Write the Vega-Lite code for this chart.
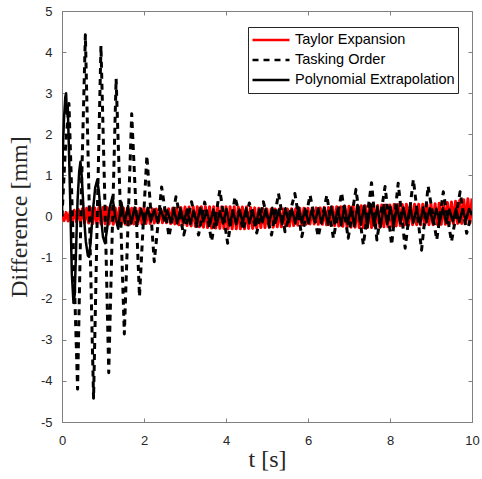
{
  "$schema": "https://vega.github.io/schema/vega-lite/v6.json",
  "width": 410,
  "height": 411,
  "autosize": {"type": "none"},
  "padding": {"left": 62, "top": 11, "right": 10, "bottom": 57},
  "background": "white",
  "datasets": {
    "taylor": [
      {"t":0.00,"v":0.06},{"t":0.05,"v":-0.10},{"t":0.10,"v":0.10},{"t":0.15,"v":-0.11},{"t":0.20,"v":0.12},{"t":0.25,"v":-0.11},{"t":0.30,"v":0.15},{"t":0.35,"v":-0.13},{"t":0.40,"v":0.17},{"t":0.45,"v":-0.14},
      {"t":0.50,"v":0.19},{"t":0.55,"v":-0.15},{"t":0.60,"v":0.20},{"t":0.65,"v":-0.16},{"t":0.70,"v":0.21},{"t":0.75,"v":-0.17},{"t":0.80,"v":0.21},{"t":0.85,"v":-0.17},{"t":0.90,"v":0.22},{"t":0.95,"v":-0.18},
      {"t":1.00,"v":0.22},{"t":1.05,"v":-0.18},{"t":1.10,"v":0.22},{"t":1.15,"v":-0.18},{"t":1.20,"v":0.21},{"t":1.25,"v":-0.19},{"t":1.30,"v":0.21},{"t":1.35,"v":-0.19},{"t":1.40,"v":0.21},{"t":1.45,"v":-0.19},
      {"t":1.50,"v":0.21},{"t":1.55,"v":-0.19},{"t":1.60,"v":0.20},{"t":1.65,"v":-0.19},{"t":1.70,"v":0.20},{"t":1.75,"v":-0.18},{"t":1.80,"v":0.20},{"t":1.85,"v":-0.18},{"t":1.90,"v":0.20},{"t":1.95,"v":-0.18},
      {"t":2.00,"v":0.20},{"t":2.05,"v":-0.17},{"t":2.10,"v":0.19},{"t":2.15,"v":-0.17},{"t":2.20,"v":0.19},{"t":2.25,"v":-0.16},{"t":2.30,"v":0.18},{"t":2.35,"v":-0.15},{"t":2.40,"v":0.18},{"t":2.45,"v":-0.15},
      {"t":2.50,"v":0.18},{"t":2.55,"v":-0.15},{"t":2.60,"v":0.19},{"t":2.65,"v":-0.17},{"t":2.70,"v":0.20},{"t":2.75,"v":-0.18},{"t":2.80,"v":0.21},{"t":2.85,"v":-0.20},{"t":2.90,"v":0.22},{"t":2.95,"v":-0.21},
      {"t":3.00,"v":0.23},{"t":3.05,"v":-0.22},{"t":3.10,"v":0.23},{"t":3.15,"v":-0.23},{"t":3.20,"v":0.24},{"t":3.25,"v":-0.24},{"t":3.30,"v":0.24},{"t":3.35,"v":-0.25},{"t":3.40,"v":0.24},{"t":3.45,"v":-0.26},
      {"t":3.50,"v":0.24},{"t":3.55,"v":-0.27},{"t":3.60,"v":0.24},{"t":3.65,"v":-0.28},{"t":3.70,"v":0.24},{"t":3.75,"v":-0.28},{"t":3.80,"v":0.24},{"t":3.85,"v":-0.29},{"t":3.90,"v":0.24},{"t":3.95,"v":-0.29},
      {"t":4.00,"v":0.24},{"t":4.05,"v":-0.30},{"t":4.10,"v":0.24},{"t":4.15,"v":-0.30},{"t":4.20,"v":0.24},{"t":4.25,"v":-0.30},{"t":4.30,"v":0.23},{"t":4.35,"v":-0.30},{"t":4.40,"v":0.23},{"t":4.45,"v":-0.30},
      {"t":4.50,"v":0.23},{"t":4.55,"v":-0.29},{"t":4.60,"v":0.22},{"t":4.65,"v":-0.29},{"t":4.70,"v":0.21},{"t":4.75,"v":-0.28},{"t":4.80,"v":0.20},{"t":4.85,"v":-0.27},{"t":4.90,"v":0.19},{"t":4.95,"v":-0.27},
      {"t":5.00,"v":0.18},{"t":5.05,"v":-0.26},{"t":5.10,"v":0.18},{"t":5.15,"v":-0.26},{"t":5.20,"v":0.18},{"t":5.25,"v":-0.25},{"t":5.30,"v":0.18},{"t":5.35,"v":-0.25},{"t":5.40,"v":0.18},{"t":5.45,"v":-0.24},
      {"t":5.50,"v":0.18},{"t":5.55,"v":-0.23},{"t":5.60,"v":0.19},{"t":5.65,"v":-0.22},{"t":5.70,"v":0.19},{"t":5.75,"v":-0.21},{"t":5.80,"v":0.20},{"t":5.85,"v":-0.20},{"t":5.90,"v":0.20},{"t":5.95,"v":-0.19},
      {"t":6.00,"v":0.20},{"t":6.05,"v":-0.18},{"t":6.10,"v":0.20},{"t":6.15,"v":-0.18},{"t":6.20,"v":0.21},{"t":6.25,"v":-0.19},{"t":6.30,"v":0.21},{"t":6.35,"v":-0.19},{"t":6.40,"v":0.22},{"t":6.45,"v":-0.20},
      {"t":6.50,"v":0.22},{"t":6.55,"v":-0.21},{"t":6.60,"v":0.23},{"t":6.65,"v":-0.22},{"t":6.70,"v":0.24},{"t":6.75,"v":-0.23},{"t":6.80,"v":0.24},{"t":6.85,"v":-0.24},{"t":6.90,"v":0.25},{"t":6.95,"v":-0.25},
      {"t":7.00,"v":0.25},{"t":7.05,"v":-0.26},{"t":7.10,"v":0.26},{"t":7.15,"v":-0.26},{"t":7.20,"v":0.26},{"t":7.25,"v":-0.27},{"t":7.30,"v":0.26},{"t":7.35,"v":-0.27},{"t":7.40,"v":0.26},{"t":7.45,"v":-0.27},
      {"t":7.50,"v":0.27},{"t":7.55,"v":-0.27},{"t":7.60,"v":0.27},{"t":7.65,"v":-0.26},{"t":7.70,"v":0.27},{"t":7.75,"v":-0.26},{"t":7.80,"v":0.28},{"t":7.85,"v":-0.25},{"t":7.90,"v":0.28},{"t":7.95,"v":-0.25},
      {"t":8.00,"v":0.28},{"t":8.05,"v":-0.24},{"t":8.10,"v":0.29},{"t":8.15,"v":-0.23},{"t":8.20,"v":0.29},{"t":8.25,"v":-0.22},{"t":8.30,"v":0.29},{"t":8.35,"v":-0.21},{"t":8.40,"v":0.30},{"t":8.45,"v":-0.21},
      {"t":8.50,"v":0.30},{"t":8.55,"v":-0.20},{"t":8.60,"v":0.30},{"t":8.65,"v":-0.20},{"t":8.70,"v":0.30},{"t":8.75,"v":-0.20},{"t":8.80,"v":0.30},{"t":8.85,"v":-0.20},{"t":8.90,"v":0.30},{"t":8.95,"v":-0.20},
      {"t":9.00,"v":0.30},{"t":9.05,"v":-0.20},{"t":9.10,"v":0.31},{"t":9.15,"v":-0.19},{"t":9.20,"v":0.32},{"t":9.25,"v":-0.19},{"t":9.30,"v":0.33},{"t":9.35,"v":-0.19},{"t":9.40,"v":0.34},{"t":9.45,"v":-0.18},
      {"t":9.50,"v":0.35},{"t":9.55,"v":-0.18},{"t":9.60,"v":0.37},{"t":9.65,"v":-0.17},{"t":9.70,"v":0.39},{"t":9.75,"v":-0.17},{"t":9.80,"v":0.41},{"t":9.85,"v":-0.16},{"t":9.90,"v":0.43},{"t":9.95,"v":-0.16},
      {"t":10.00,"v":0.44}
    ],
    "tasking": [
      {"t":0.00,"v":0.0},{"t":0.08,"v":1.6},{"t":0.17,"v":2.75},{"t":0.27,"v":-0.5},{"t":0.38,"v":-4.2},{"t":0.47,"v":0.5},{"t":0.57,"v":4.42},{"t":0.67,"v":0.0},{"t":0.77,"v":-4.42},{"t":0.86,"v":0.0},
      {"t":0.95,"v":4.15},{"t":1.05,"v":0.2},{"t":1.14,"v":-3.8},{"t":1.23,"v":-0.2},{"t":1.32,"v":3.35},{"t":1.42,"v":0.3},{"t":1.52,"v":-2.86},{"t":1.61,"v":-0.2},{"t":1.70,"v":2.5},{"t":1.80,"v":0.3},
      {"t":1.89,"v":-1.95},{"t":1.98,"v":-0.2},{"t":2.07,"v":1.48},{"t":2.16,"v":0.2},{"t":2.25,"v":-1.1},{"t":2.34,"v":-0.2},{"t":2.43,"v":0.72},{"t":2.61,"v":-0.49},{"t":2.78,"v":0.48},{"t":2.97,"v":-0.45},
      {"t":3.16,"v":0.36},{"t":3.33,"v":-0.45},{"t":3.48,"v":0.35},{"t":3.65,"v":-0.6},{"t":3.85,"v":0.64},{"t":4.04,"v":-0.65},{"t":4.22,"v":0.48},{"t":4.42,"v":-0.33},{"t":4.57,"v":0.33},{"t":4.75,"v":-0.4},
      {"t":4.91,"v":0.36},{"t":5.11,"v":-0.45},{"t":5.28,"v":0.56},{"t":5.44,"v":-0.37},{"t":5.68,"v":0.56},{"t":5.85,"v":-0.49},{"t":6.05,"v":0.52},{"t":6.25,"v":-0.49},{"t":6.46,"v":0.52},{"t":6.62,"v":-0.53},
      {"t":6.82,"v":0.58},{"t":6.98,"v":-0.53},{"t":7.17,"v":0.66},{"t":7.35,"v":-0.69},{"t":7.55,"v":0.82},{"t":7.68,"v":-0.57},{"t":7.88,"v":0.73},{"t":8.04,"v":-0.69},{"t":8.2,"v":0.81},{"t":8.37,"v":-0.77},
      {"t":8.57,"v":0.9},{"t":8.77,"v":-0.82},{"t":8.93,"v":0.74},{"t":9.14,"v":-0.57},{"t":9.3,"v":0.6},{"t":9.5,"v":-0.61},{"t":9.71,"v":0.6},{"t":9.87,"v":-0.41},{"t":10.0,"v":0.1}
    ],
    "poly": [
      {"t":0.00,"v":0.0},{"t":0.02,"v":1.6},{"t":0.05,"v":2.4},{"t":0.08,"v":2.9},{"t":0.10,"v":3.0},{"t":0.12,"v":2.5},{"t":0.14,"v":2.7},{"t":0.17,"v":1.6},{"t":0.20,"v":0.4},{"t":0.24,"v":-1.4},
      {"t":0.28,"v":-2.1},{"t":0.31,"v":-1.9},{"t":0.34,"v":-0.9},{"t":0.38,"v":0.4},{"t":0.42,"v":1.1},{"t":0.45,"v":1.33},{"t":0.48,"v":1.0},{"t":0.53,"v":0.1},{"t":0.58,"v":-0.6},{"t":0.63,"v":-0.95},
      {"t":0.66,"v":-0.98},{"t":0.70,"v":-0.6},{"t":0.75,"v":0.1},{"t":0.81,"v":0.7},{"t":0.86,"v":0.89},{"t":0.90,"v":0.6},{"t":0.95,"v":0.0},{"t":1.00,"v":-0.5},{"t":1.05,"v":-0.65},{"t":1.10,"v":-0.3},
      {"t":1.16,"v":0.2},{"t":1.23,"v":0.48},{"t":1.30,"v":0.0},{"t":1.37,"v":-0.3},{"t":1.45,"v":0.34},{"t":1.53,"v":-0.16},{"t":1.61,"v":0.26},{"t":1.69,"v":-0.17},{"t":1.77,"v":0.22},{"t":1.85,"v":-0.13},
      {"t":1.93,"v":0.19},{"t":2.01,"v":-0.17},{"t":2.09,"v":0.21},{"t":2.17,"v":-0.12},{"t":2.25,"v":0.17},{"t":2.33,"v":-0.15},{"t":2.41,"v":0.19},{"t":2.49,"v":-0.1},{"t":2.57,"v":0.15},{"t":2.65,"v":-0.14},
      {"t":2.73,"v":0.17},{"t":2.81,"v":-0.17},{"t":2.89,"v":0.2},{"t":2.97,"v":-0.15},{"t":3.05,"v":0.17},{"t":3.13,"v":-0.19},{"t":3.21,"v":0.14},{"t":3.29,"v":-0.17},{"t":3.37,"v":0.21},{"t":3.45,"v":-0.12},
      {"t":3.53,"v":0.15},{"t":3.61,"v":-0.19},{"t":3.69,"v":0.17},{"t":3.77,"v":-0.21},{"t":3.85,"v":0.13},{"t":3.93,"v":-0.17},{"t":4.01,"v":0.19},{"t":4.09,"v":-0.22},{"t":4.17,"v":0.14},{"t":4.25,"v":-0.19},
      {"t":4.33,"v":0.17},{"t":4.41,"v":-0.15},{"t":4.49,"v":0.2},{"t":4.57,"v":-0.17},{"t":4.65,"v":0.15},{"t":4.73,"v":-0.2},{"t":4.81,"v":0.17},{"t":4.89,"v":-0.14},{"t":4.97,"v":0.19},{"t":5.05,"v":-0.17},
      {"t":5.13,"v":0.21},{"t":5.21,"v":-0.15},{"t":5.29,"v":0.17},{"t":5.37,"v":-0.19},{"t":5.45,"v":0.2},{"t":5.53,"v":-0.14},{"t":5.61,"v":0.17},{"t":5.69,"v":-0.17},{"t":5.77,"v":0.22},{"t":5.85,"v":-0.15},
      {"t":5.93,"v":0.19},{"t":6.01,"v":-0.17},{"t":6.09,"v":0.15},{"t":6.17,"v":-0.14},{"t":6.25,"v":0.2},{"t":6.33,"v":-0.17},{"t":6.41,"v":0.17},{"t":6.49,"v":-0.2},{"t":6.57,"v":0.24},{"t":6.65,"v":-0.17},
      {"t":6.73,"v":0.19},{"t":6.81,"v":-0.22},{"t":6.89,"v":0.26},{"t":6.97,"v":-0.19},{"t":7.05,"v":0.22},{"t":7.13,"v":-0.24},{"t":7.21,"v":0.28},{"t":7.29,"v":-0.2},{"t":7.37,"v":0.26},{"t":7.45,"v":-0.26},
      {"t":7.53,"v":0.3},{"t":7.61,"v":-0.22},{"t":7.69,"v":0.24},{"t":7.77,"v":-0.26},{"t":7.85,"v":0.28},{"t":7.93,"v":-0.19},{"t":8.01,"v":0.24},{"t":8.09,"v":-0.22},{"t":8.17,"v":0.26},{"t":8.25,"v":-0.17},
      {"t":8.33,"v":0.22},{"t":8.41,"v":-0.2},{"t":8.49,"v":0.24},{"t":8.57,"v":-0.15},{"t":8.65,"v":0.2},{"t":8.73,"v":-0.19},{"t":8.81,"v":0.22},{"t":8.89,"v":-0.14},{"t":8.97,"v":0.2},{"t":9.05,"v":-0.17},
      {"t":9.13,"v":0.19},{"t":9.21,"v":-0.14},{"t":9.29,"v":0.2},{"t":9.37,"v":-0.15},{"t":9.45,"v":0.17},{"t":9.53,"v":-0.12},{"t":9.61,"v":0.19},{"t":9.69,"v":-0.14},{"t":9.77,"v":0.17},{"t":9.85,"v":-0.1},
      {"t":9.93,"v":0.19},{"t":10.0,"v":0.05}
    ]
  },
  "layer": [
    {
      "data": {"name": "taylor"},
      "mark": {"type": "line", "strokeWidth": 3, "strokeJoin": "round", "clip": true},
      "encoding": {
        "x": {"field": "t", "type": "quantitative", "scale": {"domain": [0, 10], "nice": false},
              "axis": {"values": [0, 2, 4, 6, 8, 10], "tickSize": -4, "labelPadding": 16, "labelFlush": false, "labelExpr": "'' + datum.value", "title": "t [s]", "titlePadding": 0}},
        "y": {"field": "v", "type": "quantitative", "scale": {"domain": [-5, 5], "nice": false},
              "axis": {"values": [-5, -4, -3, -2, -1, 0, 1, 2, 3, 4, 5], "tickSize": -4, "labelPadding": 14, "labelFlush": false, "labelExpr": "'' + datum.value", "title": "Difference [mm]", "titlePadding": 9}},
        "color": {"datum": "Taylor Expansion", "type": "nominal",
                  "scale": {"domain": ["Taylor Expansion", "Tasking Order", "Polynomial Extrapolation"], "range": ["#ff0000", "#000000", "#000000"]},
                  "legend": {"title": null}},
        "strokeDash": {"datum": "Taylor Expansion", "type": "nominal",
                  "scale": {"domain": ["Taylor Expansion", "Tasking Order", "Polynomial Extrapolation"], "range": [[1, 0], [6, 5], [1, 0]]},
                  "legend": {"title": null}}
      }
    },
    {
      "data": {"name": "tasking"},
      "mark": {"type": "line", "strokeWidth": 3, "strokeJoin": "round", "clip": true},
      "encoding": {
        "x": {"field": "t", "type": "quantitative", "axis": null},
        "y": {"field": "v", "type": "quantitative", "axis": null},
        "color": {"datum": "Tasking Order", "type": "nominal", "legend": {"title": null}},
        "strokeDash": {"datum": "Tasking Order", "type": "nominal", "legend": {"title": null}}
      }
    },
    {
      "data": {"name": "poly"},
      "mark": {"type": "line", "strokeWidth": 2.5, "strokeJoin": "round", "clip": true},
      "encoding": {
        "x": {"field": "t", "type": "quantitative",
              "axis": {"orient": "top", "values": [0, 2, 4, 6, 8, 10], "tickSize": -4, "labels": false, "domain": false, "title": null}},
        "y": {"field": "v", "type": "quantitative",
              "axis": {"orient": "right", "values": [-5, -4, -3, -2, -1, 0, 1, 2, 3, 4, 5], "tickSize": -4, "labels": false, "domain": false, "title": null}},
        "color": {"datum": "Polynomial Extrapolation", "type": "nominal", "legend": {"title": null}},
        "strokeDash": {"datum": "Polynomial Extrapolation", "type": "nominal", "legend": {"title": null}}
      }
    }
  ],
  "resolve": {"axis": {"x": "independent", "y": "independent"}},
  "config": {
    "view": {"stroke": "#808080", "strokeWidth": 1},
    "axis": {
      "grid": false,
      "labelFont": "Liberation Sans", "labelFontSize": 13, "labelColor": "#262626",
      "domainColor": "#808080", "tickColor": "#808080",
      "titleFont": "Liberation Serif", "titleFontSize": 24, "titleFontWeight": "normal", "titleColor": "#262626"
    },
    "legend": {
      "orient": "none", "legendX": 186, "legendY": 16,
      "strokeColor": "#262626", "fillColor": "white", "padding": 3,
      "symbolType": "stroke", "symbolSize": 1369, "symbolStrokeWidth": 2.5,
      "labelFont": "Liberation Sans", "labelFontSize": 14.5, "labelColor": "#000000",
      "labelOffset": 4, "rowPadding": 0, "clipHeight": 20
    }
  }
}
